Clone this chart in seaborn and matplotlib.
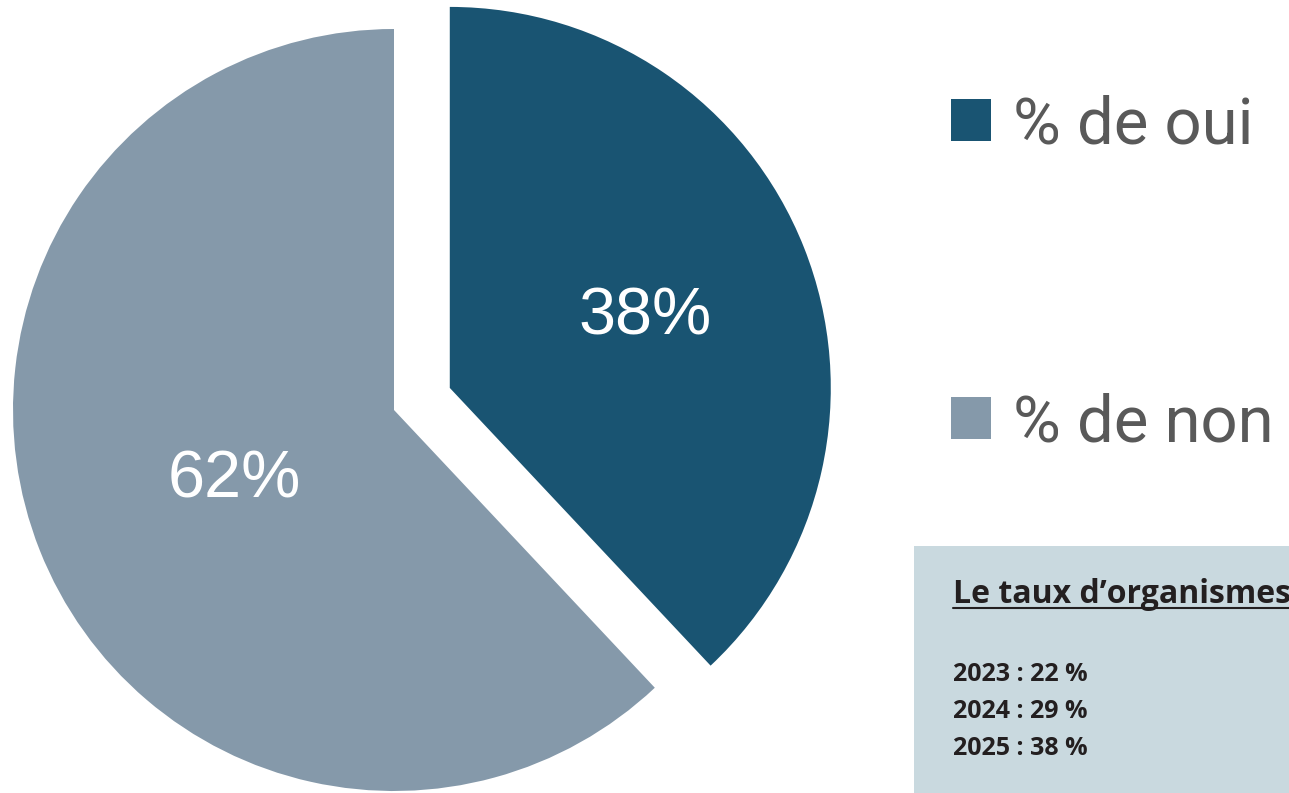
import matplotlib
matplotlib.use("Agg")
import matplotlib.pyplot as plt
import seaborn as sns
from matplotlib.patches import Patch, Rectangle
from matplotlib.lines import Line2D

# Data
labels = ["% de oui", "% de non"]
values = [38, 62]
colors = ["#195472", "#8599AA"]
box_title = "Le taux d’organismes"
years = ["2023", "2024", "2025"]
rates = [22, 29, 38]

sns.set_theme(style="white")
plt.rcParams["font.family"] = ["Liberation Sans", "DejaVu Sans"]

W, H = 1289, 793
fig = plt.figure(figsize=(W / 100, H / 100), dpi=100)
ax = fig.add_axes([0, 0, 1, 1])

radius = 381
wedges, texts, autotexts = ax.pie(
    values, colors=colors, startangle=90, counterclock=False,
    explode=[60, 0], radius=radius, center=(394, H - 410),
    autopct="%d%%", pctdistance=0.5,
    wedgeprops={"linewidth": 0},
    textprops={"color": "white", "fontsize": 48, "family": "Liberation Sans"},
)
# push the labels a bit: outer for the small slice, inner for the big one
for w, t, k in zip(wedges, autotexts, [1.1, 0.9]):
    cx, cy = w.center
    tx, ty = t.get_position()
    t.set_position((cx + (tx - cx) * k, cy + (ty - cy) * k))
    t.set_va("center_baseline")

ax.set_xlim(0, W)
ax.set_ylim(0, H)
ax.set_aspect("equal")
ax.axis("off")

# Legend
handles = [Patch(facecolor=c, edgecolor="none") for c in colors]
leg = fig.legend(handles, labels, loc="upper left",
                 bbox_to_anchor=(951 / W, 1 - 94 / H), frameon=False,
                 borderpad=0, borderaxespad=0,
                 prop={"family": "Roboto", "size": 47},
                 labelcolor="#595959", handlelength=0.62, handleheight=0.62,
                 handletextpad=0.33, labelspacing=3.62)

# Info box
fig.patches.append(Rectangle((914 / W, 0), (W - 914) / W, (H - 546) / H,
                             transform=fig.transFigure, facecolor="#C9D9DF",
                             edgecolor="none", zorder=0))
title = fig.text(953 / W, 1 - 603 / H, box_title, fontsize=23, fontweight="bold",
                 family="Open Sans", color="#231F20", va="baseline")
for i, (y, r) in enumerate(zip(years, rates)):
    fig.text(953 / W, 1 - (681 + i * 37) / H, f"{y} : {r} %", fontsize=18,
             fontweight="bold", family="Open Sans", color="#231F20", va="baseline")

fig.canvas.draw()
bb = title.get_window_extent()
uy = (H - 608) / H
fig.add_artist(Line2D([bb.x0 / W, bb.x1 / W], [uy, uy], transform=fig.transFigure,
                      color="#231F20", lw=1.5))

fig.savefig("out.png", dpi=100)
